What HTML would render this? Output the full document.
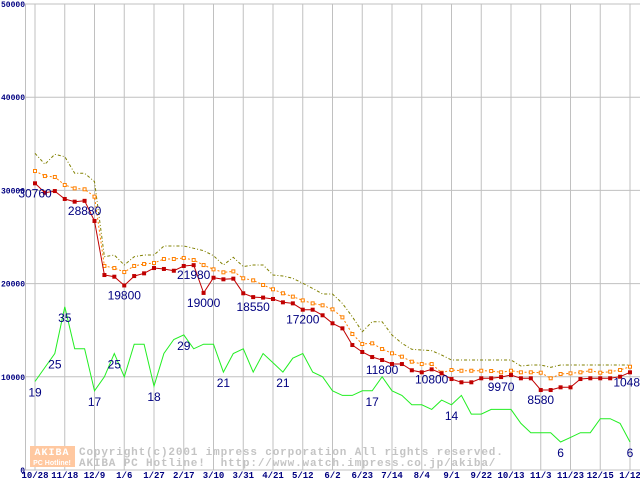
<!DOCTYPE html>
<html><head><meta charset="utf-8"><style>
html,body{margin:0;padding:0;background:#fff;width:640px;height:480px;overflow:hidden}
svg{display:block}
</style></head><body>
<svg id="chart" width="640" height="480" viewBox="0 0 640 480" xmlns="http://www.w3.org/2000/svg">
<g id="grid"></g>
<g id="watermark">
 <rect x="30" y="446" width="45" height="21" fill="#ffc8a0"/>
 <text x="52" y="455" text-anchor="middle" font-family="Liberation Mono, monospace" font-size="10" font-weight="bold" fill="#fff" letter-spacing="1">AKIBA</text>
 <text x="52" y="465" text-anchor="middle" font-family="Liberation Sans, sans-serif" font-size="7" font-weight="bold" fill="#fff">PC Hotline!</text>
 <text x="79" y="455" font-family="Liberation Mono, monospace" font-size="11" font-weight="bold" fill="#c4c4c4" letter-spacing="0.85">Copyright(c)2001 impress corporation All rights reserved.</text>
 <text x="79" y="466" font-family="Liberation Mono, monospace" font-size="11" font-weight="bold" fill="#c4c4c4" letter-spacing="0.85" xml:space="preserve">AKIBA PC Hotline!  http://www.watch.impress.co.jp/akiba/</text>
</g>
<g id="series"></g>
<g id="labels"></g>
</svg>
<script>
const xLabels = ["10/28","11/18","12/9","1/6","1/27","2/17","3/10","3/31","4/21","5/12","6/2","6/23","7/14","8/4","9/1","9/22","10/13","11/3","11/23","12/15","1/12"];
const yTicks = [0,10000,20000,30000,40000,50000];
const maxPrice = [33980,32800,33870,33620,31830,31830,30940,22890,23070,22000,22890,23070,23070,24030,24030,24030,23790,23530,22990,22000,22820,21820,22000,22000,20920,20820,20570,20030,19490,18880,18880,17880,16450,14840,15910,15910,14480,13590,12950,12880,12800,12340,11800,11800,11800,11800,11800,11800,11800,11160,11270,11270,11020,11270,11270,11270,11270,11270,11270,11270,11270];
const avgPrice = [32080,31540,31440,30580,30220,30120,29330,21890,21670,21240,21890,22100,22210,22640,22640,22750,22530,21990,21530,21210,21310,20570,20350,19850,19390,18960,18600,18200,17880,17670,17240,16380,14590,13520,13590,12980,12520,12160,11620,11370,11370,10440,10730,10650,10650,10650,10620,10480,10650,10480,10480,10440,9840,10300,10370,10480,10650,10440,10550,10730,11080];
const minPrice = [30760,29750,29930,29080,28790,28880,26720,20920,20740,19800,20810,21100,21670,21570,21380,21890,21980,19000,20630,20460,20530,18960,18550,18500,18350,17990,17880,17200,17200,16600,15740,15200,13410,12660,12120,11800,11370,11370,10700,10480,10800,10370,9760,9410,9410,9840,9840,9970,10190,9840,9840,8580,8580,8870,8870,9760,9840,9840,9840,10010,10480];
const shopCount = [19,22,25,35,26,26,17,20,25,20,27,27,18,25,28,29,26,27,27,21,25,26,21,25,23,21,24,25,21,20,17,16,16,17,17,20,17,16,14,14,13,15,14,16,12,12,13,13,13,10,8,8,8,6,7,8,8,11,11,10,6];
const minLabelIdx = [0,5,9,16,17,22,27,35,40,47,51,60];
const countLabelIdx = [0,2,3,6,8,12,15,19,25,34,42,53,60];
const countScale = 500;

const NS = "http://www.w3.org/2000/svg";
const X0 = 35, TICKW = 29.75, Y0 = 470, YTOP = 4, YMAX = 50000;
function xi(i){ return X0 + i * TICKW / 3; }
function xt(t){ return X0 + t * TICKW; }
function yv(v){ return Y0 - v / YMAX * (Y0 - YTOP); }
function mk(tag, attrs, parent){
  const e = document.createElementNS(NS, tag);
  for (const k in attrs) e.setAttribute(k, attrs[k]);
  parent.appendChild(e); return e;
}
const grid = document.getElementById('grid');
const series = document.getElementById('series');
const labels = document.getElementById('labels');

yTicks.forEach(v => {
  const l = mk('line', {x1:25, x2:640, y1:yv(v), y2:yv(v), stroke:'#c0c0c0', 'stroke-width':1}, grid);
  
  
  const t = mk('text', {x:25, y:yv(v)+3, 'text-anchor':'end', 'font-family':'Liberation Mono, monospace', 'font-size':8, 'font-weight':'bold', fill:'#000080'}, grid);
  t.textContent = v;
  
  
});
const ax = mk('line', {x1:25.5, x2:25.5, y1:YTOP, y2:Y0, stroke:'#c0c0c0'}, grid);


xLabels.forEach((s, t) => {
  const l = mk('line', {x1:xt(t), x2:xt(t), y1:YTOP, y2:Y0, stroke:'#c0c0c0', 'stroke-width':1}, grid);
  
  
  const tx = mk('text', {x:xt(t), y:478, 'text-anchor':'middle', 'font-family':'Liberation Mono, monospace', 'font-size':9, 'font-weight':'bold', fill:'#000080'}, grid);
  tx.textContent = s;
  
  
});

function pts(arr, scale){ return arr.map((v,i) => xi(i).toFixed(1) + ',' + yv(v*scale).toFixed(1)).join(' '); }

const pg = mk('polyline', {points:pts(shopCount, countScale), fill:'none', stroke:'#22ee22', 'stroke-width':1}, series);



const po = mk('polyline', {points:pts(maxPrice, 1), fill:'none', stroke:'#808000', 'stroke-width':1, 'stroke-dasharray':'3,2,1,2'}, series);



const pa = mk('polyline', {points:pts(avgPrice, 1), fill:'none', stroke:'#ff8000', 'stroke-width':1, 'stroke-dasharray':'2,2'}, series);


avgPrice.forEach((v,i) => {
  const r = mk('rect', {x:xi(i)-1.5, y:yv(v)-1.5, width:3, height:3, fill:'#fff', stroke:'#ff8000', 'stroke-width':1}, series);
  
  
});

const pm = mk('polyline', {points:pts(minPrice, 1), fill:'none', stroke:'#c00000', 'stroke-width':1}, series);


minPrice.forEach((v,i) => {
  const r = mk('rect', {x:xi(i)-2, y:yv(v)-2, width:4, height:4, fill:'#c00000'}, series);
  
  
});

minLabelIdx.forEach(i => {
  const t = mk('text', {x:xi(i), y:yv(minPrice[i])+14, 'text-anchor':'middle', 'font-family':'Liberation Sans, sans-serif', 'font-size':12, fill:'#000080'}, labels);
  t.textContent = minPrice[i];
  
  
});
countLabelIdx.forEach(i => {
  const t = mk('text', {x:xi(i), y:yv(shopCount[i]*countScale)+15, 'text-anchor':'middle', 'font-family':'Liberation Sans, sans-serif', 'font-size':12, fill:'#000080'}, labels);
  t.textContent = shopCount[i];
  
  
});
</script>
</body></html>
